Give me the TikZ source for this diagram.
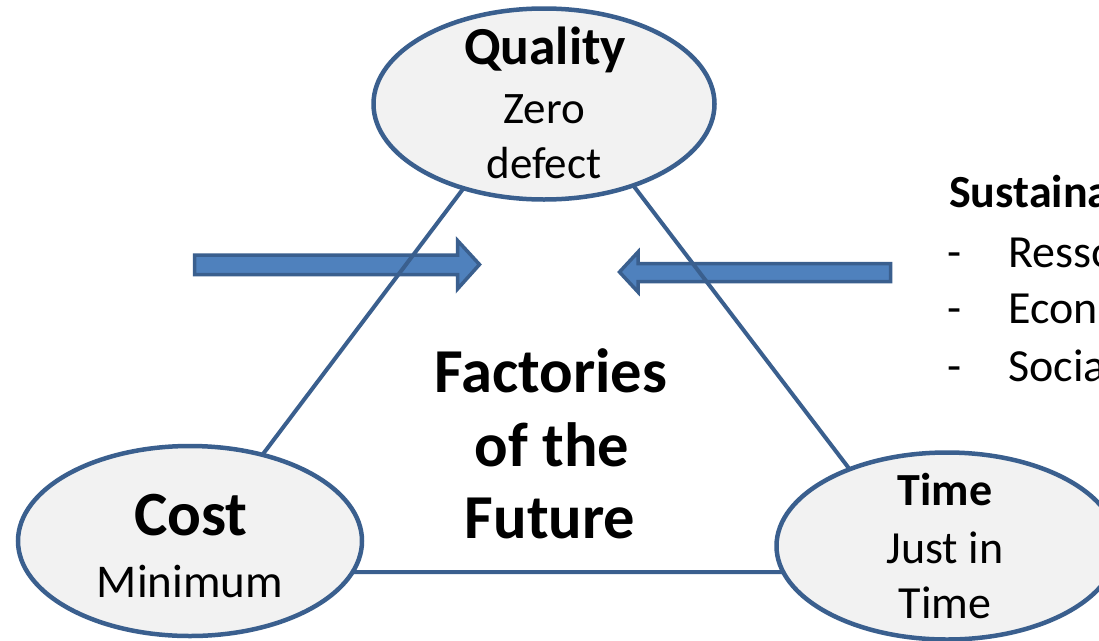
\documentclass[tikz,border=0pt]{standalone}
\usepackage{fontspec}
\setmainfont{Carlito}
\usetikzlibrary{shapes.geometric}
\definecolor{edgeblue}{HTML}{3A5F8E}
\definecolor{arrowfill}{HTML}{4F81BD}
\definecolor{ellfill}{HTML}{F2F2F2}
\tikzset{
  tri/.style={draw=edgeblue, line width=4pt},
  ell/.style={ellipse, draw=edgeblue, fill=ellfill, line width=4.5pt, inner sep=0pt},
  fatarrow/.style={draw=edgeblue, fill=arrowfill, line width=3.5pt, line join=miter},
  lbl/.style={inner sep=0pt, anchor=base, text=black},
  lblw/.style={inner sep=0pt, anchor=base west, text=black},
  bigb/.style={font=\fontsize{62.5}{70}\selectfont\bfseries},
  costb/.style={font=\fontsize{63}{70}\selectfont\bfseries},
  qb/.style={font=\fontsize{53.5}{60}\selectfont\bfseries},
  mb/.style={font=\fontsize{46}{53}\selectfont\bfseries},
  mr/.style={font=\fontsize{45}{53}\selectfont},
  sr/.style={font=\fontsize{46}{53}\selectfont},
  minr/.style={font=\fontsize{47}{54}\selectfont},
}
\begin{document}
\begin{tikzpicture}[x=1pt,y=-1pt]
\useasboundingbox (0,0) rectangle (1099,640);
\clip (0,0) rectangle (1099,640);
\fill[white] (0,0) rectangle (1099,640);
% block arrows
\draw[fatarrow] (194.5,255) -- (457.5,255) -- (457.5,240.5) -- (479.5,264.5) -- (457.5,289) -- (457.5,274.5) -- (194.5,274.5) -- cycle;
\draw[fatarrow] (619.5,272) -- (638,252) -- (638,263.5) -- (890.5,263.5) -- (890.5,281.5) -- (638,281.5) -- (638,292) -- cycle;
% triangle corners
\coordinate (apex) at (549,75);
\coordinate (cornerL) at (174,572);
\coordinate (cornerR) at (928,572);
\draw[tri] (apex) -- (cornerL) -- (cornerR) -- cycle;
% ellipses
\node[ell, minimum width=341pt, minimum height=191pt] (quality) at (544,104) {};
\node[ell, minimum width=344pt, minimum height=190pt] (cost) at (190,541) {};
\node[ell, minimum width=341pt, minimum height=187pt] (time) at (947,546) {};
% ellipse texts
\node[lbl, qb] (qT) at (545,64) {Quality};
\node[lbl, mr] (qZ) at (544,123) {Zero};
\node[lbl, mr] (qD) at (544,178) {defect};
\node[lbl, costb] (cT) at (191,535) {Cost};
\node[lbl, minr] (cM) at (190,597) {Minimum};
\node[lbl, mb] (tT) at (945,505) {Time};
\node[lbl, sr] (tJ) at (945,563) {Just in};
\node[lbl, sr] (tTi) at (945,618) {Time};
% centre
\node[lbl, bigb] (f1) at (551,392) {Factories};
\node[lbl, bigb] (f2) at (552,466) {of the};
\node[lbl, bigb] (f3) at (550,538) {Future};
% sustainability list
\node[lblw, mb] (sus) at (949,207) {Sustaina};
\node[lblw, sr] (d1) at (947,267) {-};
\node[lblw, sr] (d2) at (947,323) {-};
\node[lblw, sr] (d3) at (947,381) {-};
\node[lblw, sr] (i1) at (1008,267) {Resso};
\node[lblw, sr] (i2) at (1008,323) {Econ};
\node[lblw, sr] (i3) at (1008,381) {Socia};
\end{tikzpicture}
\end{document}
